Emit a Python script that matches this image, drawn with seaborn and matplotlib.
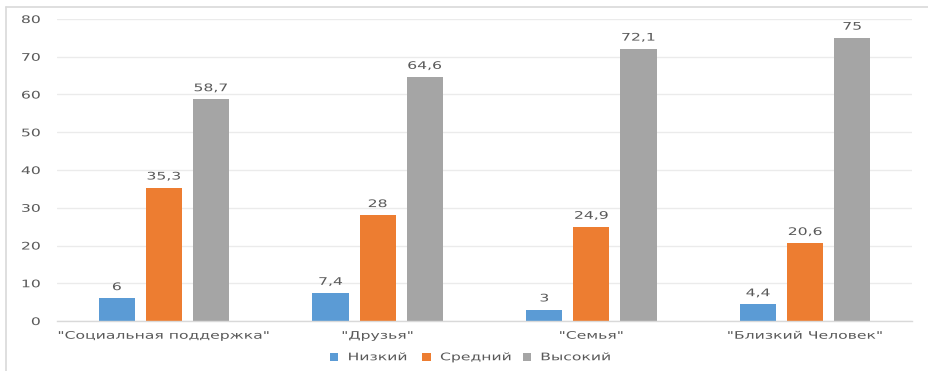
import matplotlib
matplotlib.use("Agg")
import matplotlib.pyplot as plt
import seaborn as sns
import pandas as pd
from matplotlib.lines import Line2D
from matplotlib.patheffects import AbstractPathEffect
from matplotlib.transforms import Affine2D

categories = ['"Социальная поддержка"', '"Друзья"', '"Семья"', '"Близкий Человек"']
series_names = ["Низкий", "Средний", "Высокий"]
low = [6, 7.4, 3, 4.4]
mid = [35.3, 28, 24.9, 20.6]
high = [58.7, 64.6, 72.1, 75]
colors = ["#5B9BD5", "#ED7D31", "#A5A5A5"]

rows = []
for name, vals in zip(series_names, [low, mid, high]):
    for c, v in zip(categories, vals):
        rows.append({"cat": c, "series": name, "value": v})
df = pd.DataFrame(rows)


class Stretch(AbstractPathEffect):
    """Horizontally stretch text glyphs (text stays a real Text object)."""
    def __init__(self, sx, anchor="center"):
        super().__init__()
        self.sx = sx
        self.anchor = anchor

    def draw_path(self, renderer, gc, tpath, affine, rgbFace=None):
        ext = tpath.get_extents()
        if self.anchor == "center":
            a = (ext.x0 + ext.x1) / 2
        elif self.anchor == "right":
            a = ext.x1
        else:
            a = 0
        t = Affine2D().translate(-a, 0).scale(self.sx, 1).translate(a, 0) + affine
        renderer.draw_path(gc, tpath, t, rgbFace)


SX = 1.5
FS = 7.5
sns.set_theme(style="white")
plt.rcParams["font.family"] = ["DejaVu Sans"]
text_color = "#595959"

fig = plt.figure(figsize=(9.29, 3.71), dpi=100)
ax = fig.add_axes([57/929, 50/371, 855/929, 302/371])

sns.barplot(data=df, x="cat", y="value", hue="series", order=categories,
            hue_order=series_names, palette=colors, width=0.66, gap=0.23,
            saturation=1, ax=ax, edgecolor="none")

ax.set_ylim(0, 80)
ax.set_yticks(range(0, 81, 10))
ax.set_xlim(-0.5, 3.5)
ax.yaxis.grid(True, color="#EBEBEB", linewidth=1)
ax.set_axisbelow(True)
for s in ["top", "right", "left"]:
    ax.spines[s].set_visible(False)
ax.spines["bottom"].set_color("#D9D9D9")
ax.spines["bottom"].set_linewidth(1)
ax.tick_params(axis="y", length=0, pad=12, labelsize=FS, labelcolor=text_color)
ax.tick_params(axis="x", length=0, pad=7, labelsize=FS, labelcolor=text_color)
ax.set_xlabel("")
ax.set_ylabel("")

for cont, vals in zip(ax.containers, [low, mid, high]):
    labels = [str(v).replace(".", ",") for v in vals]
    txts = ax.bar_label(cont, labels=labels, padding=4.5, fontsize=FS, color=text_color)
    for t in txts:
        t.set_path_effects([Stretch(SX, "center")])

leg = ax.legend(loc="center", bbox_to_anchor=(0.47, -0.12), ncol=3, frameon=False,
                handlelength=0.8, handleheight=0.8, columnspacing=3.3, handletextpad=0.9,
                fontsize=FS)
for t in leg.get_texts():
    t.set_color(text_color)
    t.set_path_effects([Stretch(SX, "left")])

for t in ax.get_yticklabels():
    t.set_path_effects([Stretch(SX, "right")])
for t in ax.get_xticklabels():
    t.set_path_effects([Stretch(SX, "center")])

# chart border (top and left visible)
fig.add_artist(Line2D([6.5/929, 6.5/929], [0, 1 - 6.5/371], transform=fig.transFigure,
                      color="#D9D9D9", linewidth=1.2))
fig.add_artist(Line2D([6.5/929, 1], [1 - 6.5/371, 1 - 6.5/371], transform=fig.transFigure,
                      color="#D9D9D9", linewidth=1.2))

fig.savefig("out.png", dpi=100, facecolor="white")
